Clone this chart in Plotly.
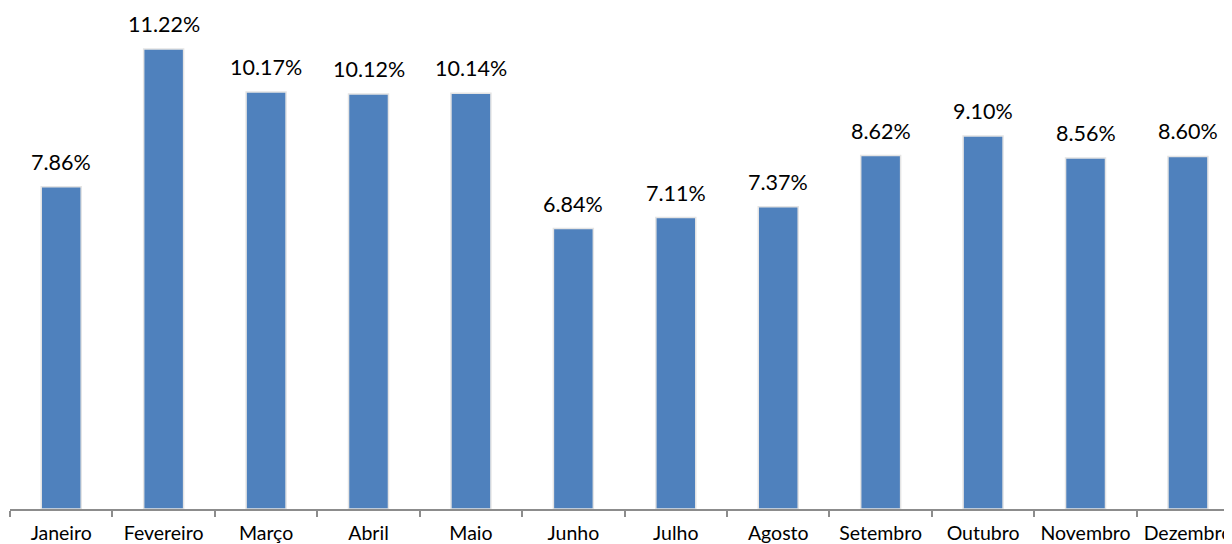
import plotly.graph_objects as go

months = ["Janeiro", "Fevereiro", "Março", "Abril", "Maio", "Junho", "Julho",
          "Agosto", "Setembro", "Outubro", "Novembro", "Dezembro"]
values = [7.86, 11.22, 10.17, 10.12, 10.14, 6.84, 7.11, 7.37, 8.62, 9.10, 8.56, 8.60]
labels = [f"{v:.2f}%" for v in values]

FONT = "Lato"
fig = go.Figure()
fig.add_trace(go.Bar(
    x=months, y=values, width=0.39,
    marker=dict(color="#4F81BD", line=dict(color="#E4E4E4", width=1.5)),
    hoverinfo="skip",
))
for m, v, t in zip(months, values, labels):
    fig.add_annotation(x=m, y=v, text=t, showarrow=False, yanchor="bottom",
                       yshift=10, font=dict(family=FONT, size=21.5, color="#000000"))

fig.update_layout(
    width=1224, height=536,
    margin=dict(l=2, r=0, t=0, b=35, autoexpand=False),
    paper_bgcolor="white", plot_bgcolor="white",
    showlegend=False,
    xaxis=dict(type="category", range=[-0.5, 11.43], showline=True, automargin=False,
               linecolor="#8C8C8C", linewidth=1.5, ticks="outside",
               tickson="boundaries", ticklen=6, tickcolor="#8C8C8C", tickwidth=1.5,
               ticklabelstandoff=6,
               tickfont=dict(family=FONT, size=19.5, color="#000000"),
               showgrid=False, fixedrange=True),
    yaxis=dict(range=[0, 12.22], visible=False, showgrid=False, fixedrange=True,
               automargin=False),
)
fig.write_html("out.html")
